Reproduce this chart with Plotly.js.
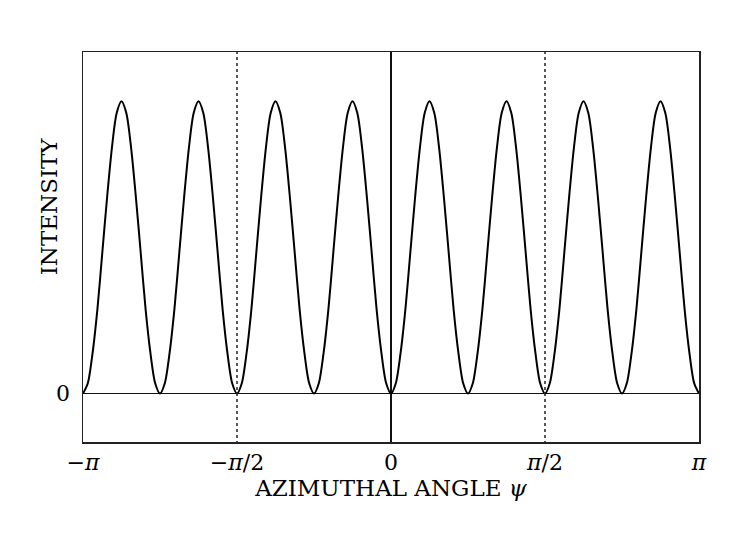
<!DOCTYPE html>
<html>
<head>
<meta charset="utf-8">
<script src="https://cdn.plot.ly/plotly-3.0.1.min.js"></script>
<style>
  html, body { margin: 0; padding: 0; background: #fff; }
  #chart { width: 747px; height: 537px; }
</style>
</head>
<body>
<div id="chart"></div>
<script>
// azimuthal angle, in steps of pi/64 (-64 = -pi, 64 = pi)
const psiSteps = [
  -64, -63, -62, -61, -60, -59, -58, -57, -56, -55, -54, -53, -52, -51, -50, -49,
  -48, -47, -46, -45, -44, -43, -42, -41, -40, -39, -38, -37, -36, -35, -34, -33,
  -32, -31, -30, -29, -28, -27, -26, -25, -24, -23, -22, -21, -20, -19, -18, -17,
  -16, -15, -14, -13, -12, -11, -10, -9, -8, -7, -6, -5, -4, -3, -2, -1,
  0, 1, 2, 3, 4, 5, 6, 7, 8, 9, 10, 11, 12, 13, 14, 15,
  16, 17, 18, 19, 20, 21, 22, 23, 24, 25, 26, 27, 28, 29, 30, 31,
  32, 33, 34, 35, 36, 37, 38, 39, 40, 41, 42, 43, 44, 45, 46, 47,
  48, 49, 50, 51, 52, 53, 54, 55, 56, 57, 58, 59, 60, 61, 62, 63,
  64
];

// intensity (peak = 1)
const intensity = [
  0, 0.035, 0.14, 0.29, 0.48, 0.67, 0.84, 0.96, 1, 0.96, 0.84, 0.67, 0.48, 0.29, 0.14, 0.035,
  0, 0.035, 0.14, 0.29, 0.48, 0.67, 0.84, 0.96, 1, 0.96, 0.84, 0.67, 0.48, 0.29, 0.14, 0.035,
  0, 0.035, 0.14, 0.29, 0.48, 0.67, 0.84, 0.96, 1, 0.96, 0.84, 0.67, 0.48, 0.29, 0.14, 0.035,
  0, 0.035, 0.14, 0.29, 0.48, 0.67, 0.84, 0.96, 1, 0.96, 0.84, 0.67, 0.48, 0.29, 0.14, 0.035,
  0, 0.035, 0.14, 0.29, 0.48, 0.67, 0.84, 0.96, 1, 0.96, 0.84, 0.67, 0.48, 0.29, 0.14, 0.035,
  0, 0.035, 0.14, 0.29, 0.48, 0.67, 0.84, 0.96, 1, 0.96, 0.84, 0.67, 0.48, 0.29, 0.14, 0.035,
  0, 0.035, 0.14, 0.29, 0.48, 0.67, 0.84, 0.96, 1, 0.96, 0.84, 0.67, 0.48, 0.29, 0.14, 0.035,
  0, 0.035, 0.14, 0.29, 0.48, 0.67, 0.84, 0.96, 1, 0.96, 0.84, 0.67, 0.48, 0.29, 0.14, 0.035,
  0
];

const xTickVals = [-64, -32, 0, 32, 64];
const xTickText = ['\u2212<i>\u03c0</i>', '\u2212<i>\u03c0</i>/2', '0', '<i>\u03c0</i>/2', '<i>\u03c0</i>'];
const dottedAt = [-32, 32];

const serif = 'DejaVu Serif, Liberation Serif, serif';

const shapes = dottedAt.map(function (x) {
  return {
    type: 'line', xref: 'x', yref: 'paper',
    x0: x, x1: x, y0: -0.005, y1: 1.006,
    line: { color: '#222', width: 1.5, dash: 'dot' }
  };
});

Plotly.newPlot('chart', [{
  x: psiSteps,
  y: intensity,
  mode: 'lines',
  line: { color: '#000', width: 2, shape: 'spline', smoothing: 0.8 },
  hoverinfo: 'skip'
}], {
  width: 747,
  height: 537,
  margin: { l: 83, r: 48, t: 52, b: 95 },
  paper_bgcolor: '#fff',
  plot_bgcolor: '#fff',
  showlegend: false,
  font: { family: serif, color: '#000', size: 22 },
  xaxis: {
    range: [-64, 64],
    tickvals: xTickVals,
    ticktext: xTickText,
    ticks: '',
    showgrid: false,
    zeroline: true,
    zerolinecolor: '#111',
    zerolinewidth: 1.5,
    showline: true,
    mirror: true,
    linecolor: '#222',
    linewidth: 1.5,
    tickfont: { family: serif, size: 22 },
    title: { text: 'AZIMUTHAL ANGLE <i>\u03c8</i>', font: { family: serif, size: 23 }, standoff: 2 }
  },
  yaxis: {
    range: [-0.166, 1.169],
    tickvals: [0],
    ticktext: ['0'],
    ticks: '',
    showgrid: false,
    zeroline: true,
    zerolinecolor: '#111',
    zerolinewidth: 1.5,
    showline: true,
    mirror: true,
    linecolor: '#222',
    linewidth: 1.5,
    ticklabelstandoff: 7,
    tickfont: { family: serif, size: 22 }
  },
  shapes: shapes,
  annotations: [{
    text: 'INTENSITY',
    xref: 'paper', yref: 'paper',
    x: -0.056, y: 0.603,
    xanchor: 'center', yanchor: 'middle',
    textangle: -90,
    showarrow: false,
    font: { family: serif, size: 23 }
  }]
}, { displayModeBar: false, staticPlot: true });
</script>
</body>
</html>
